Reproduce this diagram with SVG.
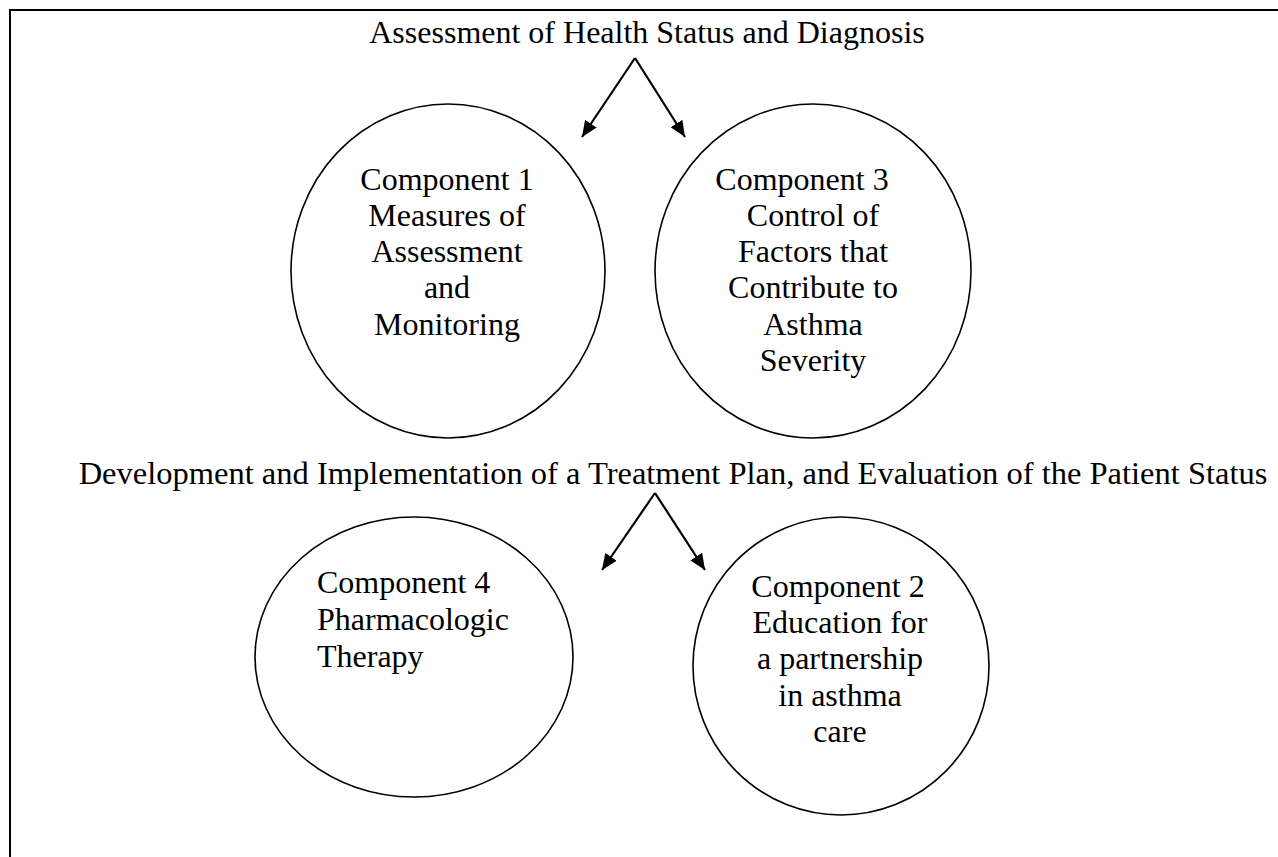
<svg xmlns="http://www.w3.org/2000/svg" width="1278" height="857" viewBox="0 0 1278 857">
<style>
  text { font-family: "Liberation Serif", "Times New Roman", serif; font-size: 32px; fill: #000; }
  .c { text-anchor: middle; }
  .big { font-size: 32.5px; }
  .node ellipse { fill: none; stroke: #000; stroke-width: 1.6; }
  .conn line { stroke: #000; stroke-width: 2.2; }
  .frame { stroke: #000; stroke-width: 2; fill: none; }
</style>
<defs>
  <marker id="arrow" viewBox="0 0 16 14" refX="16" refY="7" markerWidth="16" markerHeight="14" markerUnits="userSpaceOnUse" orient="auto">
    <path d="M0,0 L16,7 L0,14 z" fill="#000"/>
  </marker>
</defs>
<rect width="1278" height="857" fill="#fff"/>
<path class="frame" d="M10,857 L10,10 L1278,10"/>

<g id="title-assessment">
  <text class="c" x="647" y="43">Assessment of Health Status and Diagnosis</text>
</g>
<g id="title-development">
  <text class="c big" x="673" y="484">Development and Implementation of a Treatment Plan, and Evaluation of the Patient Status</text>
</g>

<g class="conn" id="connectors">
  <line x1="635" y1="58" x2="582" y2="137" marker-end="url(#arrow)"/>
  <line x1="635" y1="58" x2="685" y2="137" marker-end="url(#arrow)"/>
  <line x1="655" y1="493" x2="602" y2="570" marker-end="url(#arrow)"/>
  <line x1="655" y1="493" x2="705" y2="570" marker-end="url(#arrow)"/>
</g>

<g class="node" id="component-1">
  <ellipse cx="448" cy="271" rx="157" ry="167"/>
  <text class="c" x="447" y="190">Component 1</text>
  <text class="c" x="447" y="226">Measures of</text>
  <text class="c" x="447" y="262">Assessment</text>
  <text class="c" x="447" y="298">and</text>
  <text class="c" x="447" y="335">Monitoring</text>
</g>

<g class="node" id="component-3">
  <ellipse cx="813" cy="271" rx="158" ry="167"/>
  <text class="c" x="802" y="190">Component 3</text>
  <text class="c" x="813" y="226">Control of</text>
  <text class="c" x="813" y="262">Factors that</text>
  <text class="c" x="813" y="298">Contribute to</text>
  <text class="c" x="813" y="335">Asthma</text>
  <text class="c" x="813" y="371">Severity</text>
</g>

<g class="node" id="component-4">
  <ellipse cx="414" cy="657" rx="159" ry="140"/>
  <text x="317" y="593">Component 4</text>
  <text x="317" y="630">Pharmacologic</text>
  <text x="317" y="667">Therapy</text>
</g>

<g class="node" id="component-2">
  <ellipse cx="841" cy="666" rx="148" ry="149"/>
  <text class="c" x="838" y="597">Component 2</text>
  <text class="c" x="840" y="633">Education for</text>
  <text class="c" x="840" y="669">a partnership</text>
  <text class="c" x="840" y="706">in asthma</text>
  <text class="c" x="840" y="742">care</text>
</g>
</svg>
